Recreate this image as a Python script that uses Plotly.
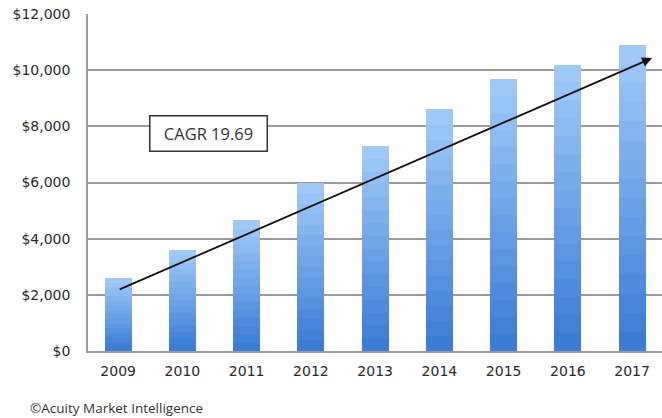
import plotly.graph_objects as go

years = ["2009", "2010", "2011", "2012", "2013", "2014", "2015", "2016", "2017"]
revenue = [2600, 3600, 4650, 6000, 7300, 8600, 9700, 10200, 10900]
y_ticks = [0, 2000, 4000, 6000, 8000, 10000, 12000]
y_tick_labels = ["$0", "$2,000", "$4,000", "$6,000", "$8,000", "$10,000", "$12,000"]
cagr_label = "CAGR 19.69"
credit = "©Acuity Market Intelligence"

# gradient imitation: stack equal slices of each bar, dark at bottom, light at top
n_slices = 16
dark = (58, 124, 214)
light = (160, 201, 248)

fig = go.Figure()
for i in range(n_slices):
    t = i / (n_slices - 1)
    c = tuple(round(dark[k] + (light[k] - dark[k]) * t) for k in range(3))
    fig.add_trace(go.Bar(
        x=years,
        y=[v / n_slices for v in revenue],
        marker=dict(color="rgb(%d,%d,%d)" % c, line=dict(width=0)),
        showlegend=False,
        hoverinfo="skip",
    ))

tick_font = dict(family="DejaVu Sans, sans-serif", size=14, color="#2a2a2a")

fig.update_layout(
    barmode="stack",
    bargap=0.58,
    width=662, height=418,
    margin=dict(l=88, r=0, t=14, b=67),
    plot_bgcolor="white",
    paper_bgcolor="white",
    font=tick_font,
    xaxis=dict(
        type="category",
        range=[-0.469, 8.465],
        showgrid=False,
        showline=True, linecolor="#9a9a9a", linewidth=1.5,
        ticks="", tickfont=tick_font,
        ticklabelstandoff=6,
    ),
    yaxis=dict(
        range=[0, 12000],
        tickvals=y_ticks, ticktext=y_tick_labels,
        showgrid=True, gridcolor="#9a9a9a", gridwidth=1.5,
        showline=True, linecolor="#9a9a9a", linewidth=1.5,
        zeroline=False,
        ticks="", tickfont=tick_font,
        ticklabelstandoff=13,
    ),
    annotations=[
        dict(
            x=8.31, y=10430, xref="x", yref="y",
            ax=0, ay=2170, axref="x", ayref="y",
            text="", showarrow=True,
            arrowhead=2, arrowsize=1.1, arrowwidth=1.8, arrowcolor="#111111",
        ),
        dict(
            x=1.40, y=7730, xref="x", yref="y",
            text=cagr_label, showarrow=False,
            font=dict(family="Open Sans, Lato, sans-serif", size=16.5, color="#333333"),
            bgcolor="white", bordercolor="#333333", borderwidth=1.5,
            width=112, height=30, borderpad=2,
        ),
        dict(
            x=-0.1045, y=-0.169, xref="paper", yref="paper",
            xanchor="left", yanchor="middle",
            text=credit, showarrow=False,
            font=dict(family="Open Sans, Lato, sans-serif", size=13.5, color="#333333"),
        ),
    ],
)

fig.write_html("out.html", config={"displayModeBar": False},
               post_script="document.body.style.margin='0';")
